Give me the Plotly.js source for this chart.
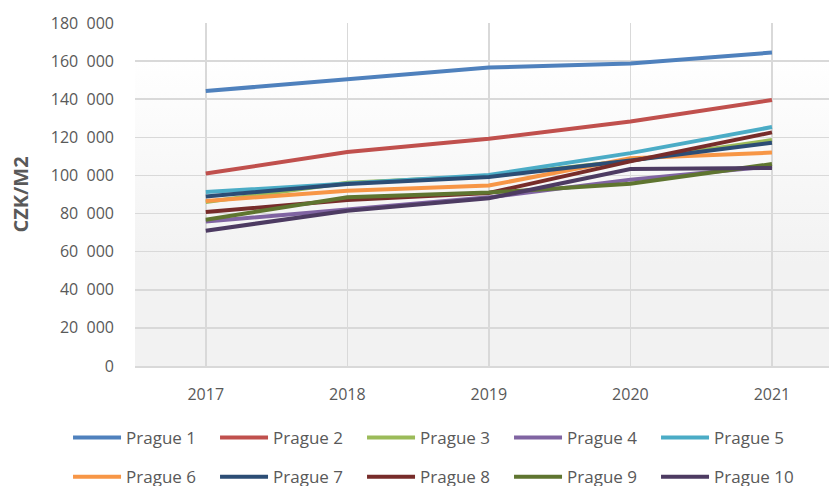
<!DOCTYPE html>
<html>
<head>
<meta charset="utf-8">
<script src="https://cdn.plot.ly/plotly-3.0.1.min.js"></script>
<style>
  html, body { margin: 0; padding: 0; background: #ffffff; }
  #chart { width: 829px; height: 486px; }
</style>
</head>
<body>
<div id="chart"></div>
<script>
const years = ['2017', '2018', '2019', '2020', '2021'];
const seriesNames = ['Prague 1', 'Prague 2', 'Prague 3', 'Prague 4', 'Prague 5',
                     'Prague 6', 'Prague 7', 'Prague 8', 'Prague 9', 'Prague 10'];
const prague1  = [144300, 150400, 156600, 158800, 164500];
const prague2  = [101000, 112300, 119200, 128300, 139600];
const prague3  = [86000, 96200, 99600, 107800, 118600];
const prague4  = [75800, 82000, 88500, 97800, 104800];
const prague5  = [91300, 96000, 100200, 111700, 125400];
const prague6  = [86600, 92000, 94700, 109000, 112000];
const prague7  = [89000, 95500, 99200, 107900, 117200];
const prague8  = [80800, 87100, 90800, 107400, 122600];
const prague9  = [76800, 88500, 91000, 95600, 106000];
const prague10 = [71000, 81500, 88000, 103400, 103900];
const yTickVals = [0, 20000, 40000, 60000, 80000, 100000, 120000, 140000, 160000, 180000];
const yTickText = ['0', '20\u00a0\u00a0000', '40\u00a0\u00a0000', '60\u00a0\u00a0000', '80\u00a0\u00a0000',
                   '100\u00a0\u00a0000', '120\u00a0\u00a0000', '140\u00a0\u00a0000', '160\u00a0\u00a0000', '180\u00a0\u00a0000'];

const allSeries = [prague1, prague2, prague3, prague4, prague5, prague6, prague7, prague8, prague9, prague10];
const colors = ['#4F81BD', '#C0504D', '#9BBB59', '#8064A2', '#4BACC6',
                '#F79646', '#2C4D75', '#772C2A', '#5F7530', '#4D3B62'];

const traces = allSeries.map((vals, i) => ({
  type: 'scatter',
  mode: 'lines',
  x: years,
  y: vals,
  name: seriesNames[i],
  line: { color: colors[i], width: 4 },
  legend: i < 5 ? 'legend' : 'legend2',
  hoverinfo: 'skip'
}));

const gradSvg = "<svg xmlns='http://www.w3.org/2000/svg' width='10' height='100' preserveAspectRatio='none'>" +
  "<defs><linearGradient id='g' x1='0' y1='0' x2='0' y2='1'>" +
  "<stop offset='0.1' stop-color='#ffffff'/><stop offset='0.7' stop-color='#f2f2f2'/></linearGradient></defs>" +
  "<rect width='10' height='100' fill='url(#g)'/></svg>";

const legendCommon = {
  orientation: 'h',
  xref: 'paper', yref: 'paper',
  xanchor: 'left', yanchor: 'middle',
  font: { family: 'Open Sans, sans-serif', size: 17, color: '#595959' },
  bgcolor: 'rgba(0,0,0,0)',
  entrywidth: 84, entrywidthmode: 'pixels',
  itemwidth: 48,
  tracegroupgap: 0
};

const layout = {
  width: 829, height: 486,
  margin: { l: 135, r: 0, t: 23, b: 120, autoexpand: false },
  paper_bgcolor: '#ffffff',
  plot_bgcolor: 'rgba(0,0,0,0)',
  font: { family: 'Open Sans, sans-serif', color: '#595959' },
  showlegend: true,
  images: [{
    source: 'data:image/svg+xml;charset=utf-8,' + encodeURIComponent(gradSvg),
    xref: 'paper', yref: 'paper', x: 0, y: 1, sizex: 1, sizey: 1,
    xanchor: 'left', yanchor: 'top', sizing: 'stretch', layer: 'below'
  }],
  xaxis: {
    type: 'category',
    range: [-0.5, 4.403],
    showgrid: true, gridcolor: '#d9d9d9', gridwidth: 1.5,
    showline: true, linecolor: '#d9d9d9', linewidth: 1.5,
    zeroline: false,
    ticks: '',
    ticklabelstandoff: 13,
    tickfont: { family: 'Open Sans, sans-serif', size: 16, color: '#595959' }
  },
  yaxis: {
    range: [0, 180000],
    tickvals: yTickVals, ticktext: yTickText,
    showgrid: true, gridcolor: '#d9d9d9', gridwidth: 1.5,
    showline: false, zeroline: false,
    ticks: '',
    ticklabelstandoff: 20,
    tickfont: { family: 'Open Sans, sans-serif', size: 16, color: '#595959' },
    title: { text: 'CZK/M2', standoff: 16,
             font: { family: 'Open Sans, sans-serif', size: 20, color: '#595959', weight: 'bold' } }
  },
  legend: Object.assign({}, legendCommon, { x: -0.0965, y: -0.21 }),
  legend2: Object.assign({}, legendCommon, { x: -0.0965, y: -0.324 })
};

Plotly.newPlot('chart', traces, layout, { displayModeBar: false, staticPlot: true });
</script>
</body>
</html>
